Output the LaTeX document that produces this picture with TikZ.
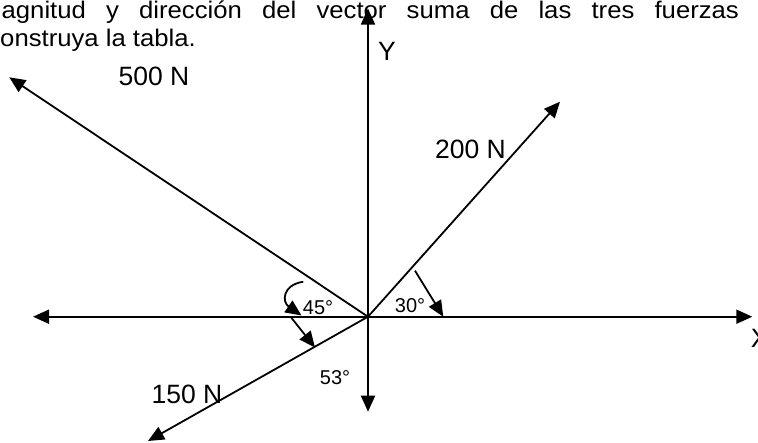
\documentclass[tikz,border=0pt]{standalone}
\usepackage{fontspec}
\setmainfont{Liberation Sans}
\newfontfamily\titlefont[FakeStretch=1.07]{Liberation Sans}
\usetikzlibrary{arrows.meta}
\begin{document}
\begin{tikzpicture}[x=1pt,y=-1pt,line width=1.8pt,
  tipend/.style={-{Triangle[length=16pt,width=14pt]}},
  tipboth/.style={{Triangle[length=16pt,width=14pt]}-{Triangle[length=16pt,width=14pt]}},
  lbl/.style={font=\fontsize{26.5}{30}\selectfont,inner sep=0pt},
  ang/.style={font=\fontsize{20}{24}\selectfont,inner sep=0pt},
  ttl/.style={font=\titlefont\fontsize{24}{28}\selectfont,inner sep=0pt,anchor=base west}]
\useasboundingbox (0,0) rectangle (758,442);
% title (cut at the left edge)
\node[ttl] (t1) at (-20.6,18.5) {\hbox to 758.6pt{magnitud\hfill y\hfill dirección\hfill del\hfill vector\hfill suma\hfill de\hfill las\hfill tres\hfill fuerzas}};
\node[ttl] (t2) at (-13.5,46.5) {construya la tabla.};
% points
\coordinate (O) at (368,316.7);
\coordinate (xl) at (33,316.7);
\coordinate (xr) at (752.3,316.7);
\coordinate (yt) at (368,8.5);
\coordinate (yb) at (368,411.7);
\coordinate (f500) at (9.3,77.3);
\coordinate (f200) at (560,101.7);
\coordinate (f150) at (148,441);
% axes
\draw[tipboth] (xl) -- (xr);
\draw[tipboth] (yb) -- (yt);
% forces
\draw[tipend] (O) -- (f500);
\draw[tipend] (O) -- (f200);
\draw[tipend] (O) -- (f150);
% angle arrows
\coordinate (a30s) at (415,270.7);
\coordinate (a30e) at (443.3,316.7);
\draw[tipend] (a30s) -- (a30e);
\coordinate (a53s) at (291,317.3);
\coordinate (a53e) at (315,347.5);
\draw[tipend] (a53s) -- (a53e);
\coordinate (a45s) at (303.3,281.7);
\coordinate (a45e) at (301.5,315.5);
\draw[tipend] (a45s) .. controls (282,285) and (282,302) .. (a45e);
% labels
\node[lbl] (l500) at (154,76.5) {500 N};
\node[lbl] (l200) at (470.5,149) {200 N};
\node[lbl] (l150) at (187,394.5) {150 N};
\node[lbl] (ly) at (387,51.7) {Y};
\node[lbl,anchor=west] (lx) at (750,338) {X};
\node[ang] (g45) at (318,308) {45°};
\node[ang] (g30) at (410,305.5) {30°};
\node[ang] (g53) at (335,378) {53°};
\end{tikzpicture}
\end{document}
